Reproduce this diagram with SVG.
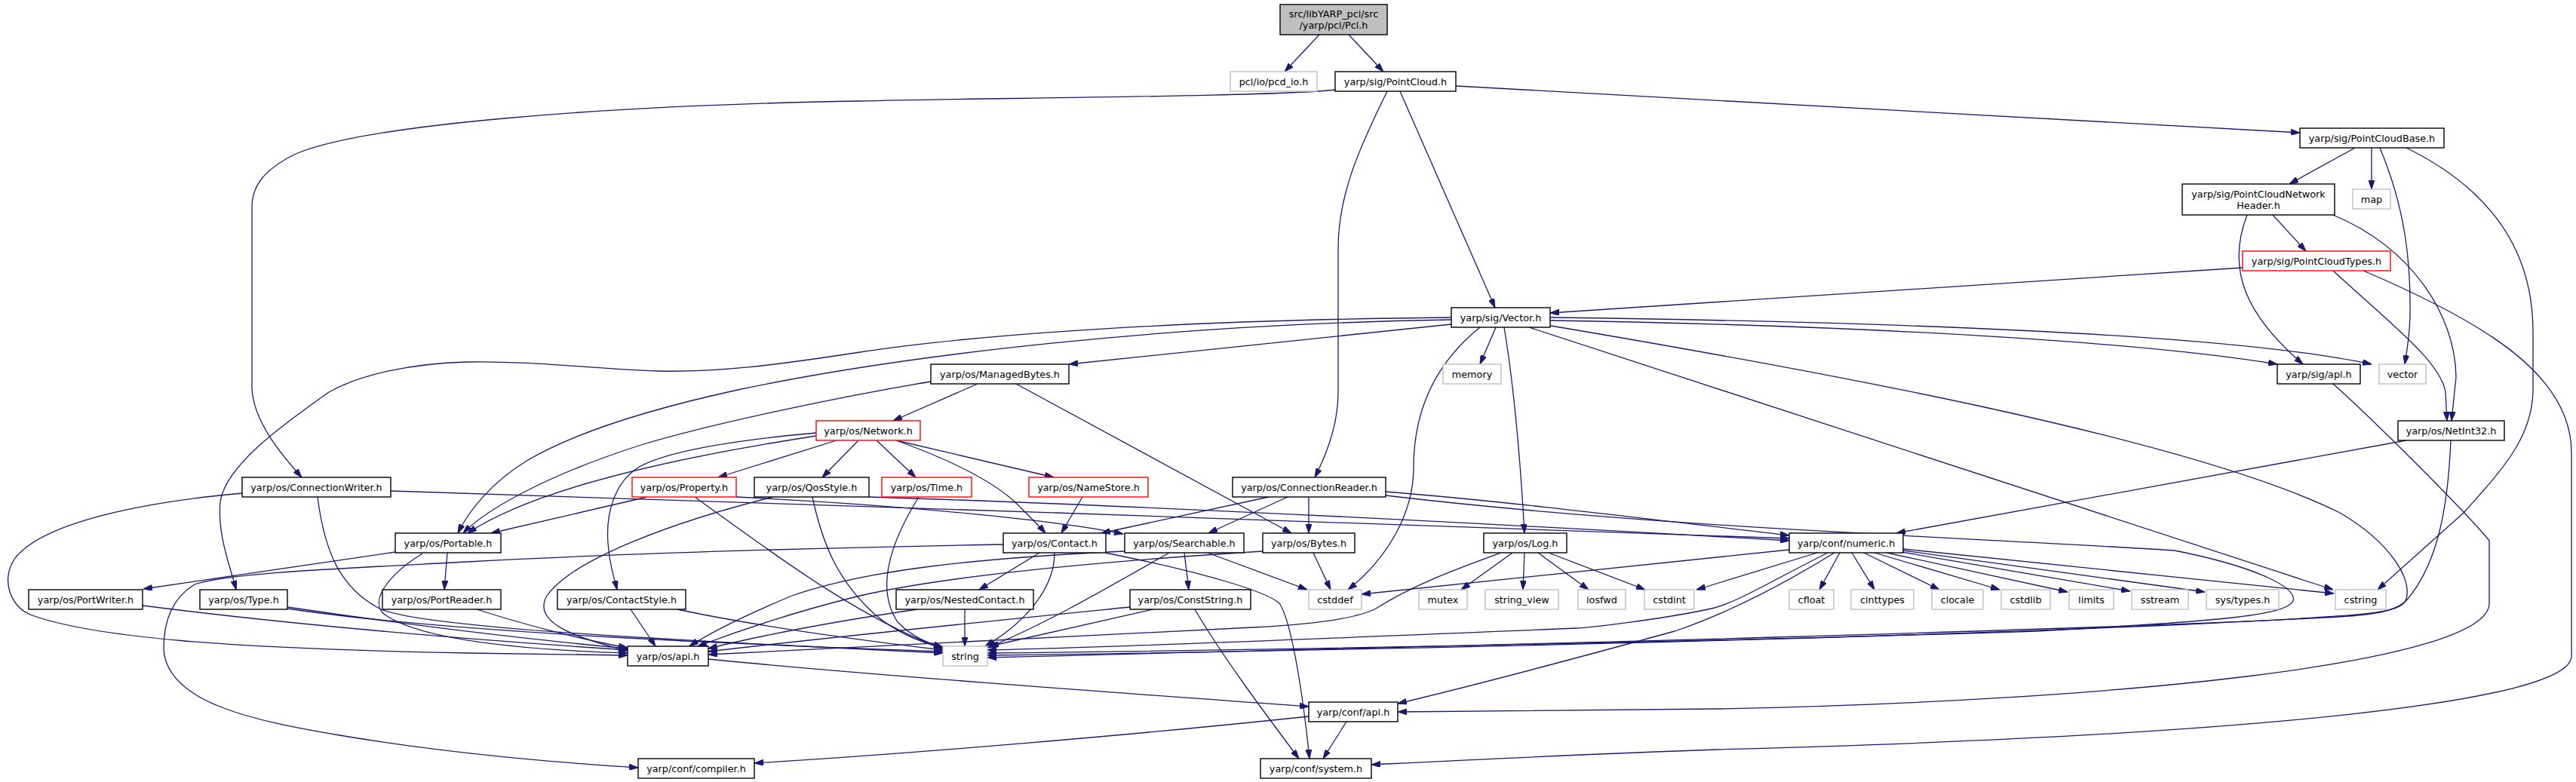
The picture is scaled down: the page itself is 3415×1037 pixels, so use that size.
<svg xmlns="http://www.w3.org/2000/svg" width="3415" height="1037" viewBox="0 0 3415 1037">
<style>
.e{fill:none;stroke:#191970;stroke-width:1.3;marker-end:url(#a)}
.n rect{fill:#fff;stroke:#000;stroke-width:1.4}
.g rect{fill:#fff;stroke:#bfbfbf;stroke-width:1.4}
.r rect{fill:#fff;stroke:#ff0000;stroke-width:1.4}
text{font-family:"DejaVu Sans","Liberation Sans",sans-serif;font-size:12.8px;text-anchor:middle;fill:#000}
</style>
<defs>
<marker id="a" viewBox="0 0 12 8" refX="12" refY="4" markerWidth="12" markerHeight="8" markerUnits="userSpaceOnUse" orient="auto"><path d="M0,0 L12,4 L0,8 z" fill="#191970" stroke="#191970" stroke-width="1"/></marker>
</defs>
<rect width="3415" height="1037" fill="#fff"/>
<g id="edges">
<path class="e" d="M1749,46 L1703,95"/>
<path class="e" d="M1788,46 L1834,95"/>
<path class="e" d="M1770,119 C1700,128 1300,130 1140,134 C800,140 480,165 390,205 C345,228 334,250 334,275 L334,515 C336,560 375,605 400,633"/>
<path class="e" d="M1839,121 C1800,200 1774,260 1774,330 L1774,520 C1774,560 1760,600 1743,633"/>
<path class="e" d="M1856,121 L1982,408"/>
<path class="e" d="M1930,114 L3049,176"/>
<path class="e" d="M3122,196 L3035,244"/>
<path class="e" d="M3144,196 L3144,251"/>
<path class="e" d="M3155,196 C3190,280 3196,350 3195,420 C3194,450 3190,470 3188,483"/>
<path class="e" d="M3190,196 C3300,250 3358,330 3358,440 L3358,520 C3356,580 3320,620 3266,680 L3152,782"/>
<path class="e" d="M3013,285 L3057,333"/>
<path class="e" d="M2979,285 C2950,360 2980,420 3053,483"/>
<path class="e" d="M3093,285 C3200,330 3255,420 3256,500 L3250,558"/>
<path class="e" d="M2973,355 L2055,415"/>
<path class="e" d="M3093,359 C3170,430 3236,480 3242,520 L3244,558"/>
<path class="e" d="M3133,359 C3300,430 3409,500 3409,600 L3409,870 C3409,930 3000,975 2275,994 C2100,1000 1900,1010 1818,1014"/>
<path class="e" d="M1924,430 L1417,483"/>
<path class="e" d="M1983,434 L1962,483"/>
<path class="e" d="M2055,425 C2500,432 2850,455 3019,483"/>
<path class="e" d="M2055,421 C2600,428 2980,448 3144,483"/>
<path class="e" d="M2027,434 L3093,782"/>
<path class="e" d="M2056,432 C2400,490 2900,580 3102,680 C3170,720 3200,770 3189,797 C3180,815 3120,817 2900,828 C2400,850 1700,864 1309,869"/>
<path class="e" d="M1994,434 C2005,500 2015,600 2021,707"/>
<path class="e" d="M1962,434 C1905,480 1874,540 1874,620 C1874,680 1840,740 1787,782"/>
<path class="e" d="M1924,421 C1500,425 1250,450 1140,467 C1030,484 950,494 873,492 C800,490 700,478 618,480 C550,482 480,495 436,520 C380,560 300,615 292,665 C288,710 305,750 313,782"/>
<path class="e" d="M1924,424 C1550,430 1200,470 978,517 C850,545 760,575 700,610 C650,640 620,680 607,707"/>
<path class="e" d="M1234,506 C1120,525 950,560 850,590 C740,625 650,670 614,707"/>
<path class="e" d="M1296,509 L1184,558"/>
<path class="e" d="M1347,509 L1712,707"/>
<path class="e" d="M1109,584 L952,633"/>
<path class="e" d="M1138,584 L1090,633"/>
<path class="e" d="M1162,584 L1214,633"/>
<path class="e" d="M1188,584 L1397,633"/>
<path class="e" d="M1188,584 C1260,610 1320,640 1350,670 C1370,690 1380,700 1386,707"/>
<path class="e" d="M1082,578 C940,600 720,640 620,707"/>
<path class="e" d="M1082,574 C960,585 880,600 846,620 C815,640 803,680 806,720 C808,750 814,765 818,782"/>
<path class="e" d="M858,659 L651,707"/>
<path class="e" d="M921,659 C1020,730 1130,815 1250,861"/>
<path class="e" d="M976,659 C1200,670 1400,690 1489,708"/>
<path class="e" d="M1025,659 C900,690 760,740 725,790 C705,825 760,845 832,863"/>
<path class="e" d="M1077,659 C1090,720 1110,770 1160,815 C1190,840 1220,852 1250,859"/>
<path class="e" d="M1152,659 C1500,670 1900,690 2372,717"/>
<path class="e" d="M518,651 C800,660 1100,672 1400,680 C1800,692 2100,703 2372,714"/>
<path class="e" d="M321,654 C200,665 60,690 20,740 C0,770 15,805 40,815 C120,845 300,860 620,866 L832,869"/>
<path class="e" d="M421,659 C430,730 450,780 505,808 C560,830 800,845 1250,866"/>
<path class="e" d="M524,732 L190,781"/>
<path class="e" d="M1330,722 C1000,728 750,738 620,745 C450,754 300,760 258,775 C225,795 217,830 217,860 C220,930 330,955 450,975 C600,1000 750,1012 846,1018"/>
<path class="e" d="M593,733 L589,782"/>
<path class="e" d="M560,734 C510,765 490,800 510,815 C560,850 700,862 832,866"/>
<path class="e" d="M189,803 C400,830 650,850 832,862"/>
<path class="e" d="M381,805 C550,830 700,848 832,860"/>
<path class="e" d="M381,807 C600,840 1000,855 1250,864"/>
<path class="e" d="M632,808 C700,830 780,850 832,859"/>
<path class="e" d="M836,808 L869,857"/>
<path class="e" d="M898,808 C1000,830 1150,850 1250,862"/>
<path class="e" d="M939,874 C1150,895 1500,920 1735,937"/>
<path class="e" d="M1735,950 C1500,975 1200,1000 1000,1012"/>
<path class="e" d="M1785,957 L1754,1006"/>
<path class="e" d="M1218,659 C1180,720 1160,780 1190,825 C1210,845 1230,853 1250,858"/>
<path class="e" d="M1435,659 L1407,707"/>
<path class="e" d="M1682,659 L1460,707"/>
<path class="e" d="M1707,659 L1602,707"/>
<path class="e" d="M1735,659 L1735,707"/>
<path class="e" d="M1837,652 C2000,665 2200,690 2372,710"/>
<path class="e" d="M1837,657 C2200,700 2600,712 2883,730 C2997,753 3045,780 3040,797 C3030,815 2960,823 2700,837 C2300,850 1700,862 1309,866"/>
<path class="e" d="M1378,733 L1298,782"/>
<path class="e" d="M1398,733 C1398,780 1360,825 1306,857"/>
<path class="e" d="M1465,733 C1600,760 1680,785 1696,800 C1710,820 1725,900 1736,1006"/>
<path class="e" d="M1550,733 C1450,790 1380,830 1309,859"/>
<path class="e" d="M1570,733 L1576,782"/>
<path class="e" d="M1601,733 L1733,782"/>
<path class="e" d="M1491,731 C1300,740 1150,755 1050,790 C990,815 940,840 914,857"/>
<path class="e" d="M1674,731 C1450,745 1250,765 1140,790 C1050,812 970,840 925,857"/>
<path class="e" d="M1741,733 L1764,782"/>
<path class="e" d="M1216,808 C1100,825 1000,845 939,860"/>
<path class="e" d="M1279,808 L1279,857"/>
<path class="e" d="M1498,805 C1300,825 1100,845 939,864"/>
<path class="e" d="M1529,808 L1312,857"/>
<path class="e" d="M1584,808 C1620,870 1680,950 1722,1006"/>
<path class="e" d="M2005,733 L1937,782"/>
<path class="e" d="M2021,733 L2019,782"/>
<path class="e" d="M2039,733 L2106,782"/>
<path class="e" d="M2053,733 L2181,782"/>
<path class="e" d="M1990,733 C1930,755 1874,775 1824,807 C1790,825 1700,830 1660,832 C1400,845 1100,860 939,868"/>
<path class="e" d="M2372,729 L1805,788"/>
<path class="e" d="M2409,733 L2249,782"/>
<path class="e" d="M2423,733 C2340,775 2300,800 2269,807 C2200,822 2100,833 2089,833 C1800,845 1500,858 1309,862"/>
<path class="e" d="M2432,733 C2380,765 2300,810 2220,837 C2100,870 1950,910 1853,933"/>
<path class="e" d="M2439,733 L2412,782"/>
<path class="e" d="M2455,733 L2485,782"/>
<path class="e" d="M2471,733 L2571,782"/>
<path class="e" d="M2485,733 L2651,782"/>
<path class="e" d="M2501,733 L2741,785"/>
<path class="e" d="M2515,731 L2824,784"/>
<path class="e" d="M2523,730 L2923,785"/>
<path class="e" d="M2523,728 L3094,787"/>
<path class="e" d="M3190,584 L2514,707"/>
<path class="e" d="M3249,584 C3245,680 3230,747 3193,793 C3180,810 3150,815 3100,818 C2800,835 2000,855 1309,872"/>
<path class="e" d="M3093,509 C3150,560 3270,680 3300,717 L3300,800 C3300,880 2800,930 2275,940 L1853,944"/>
</g>
<g id="n_root"><rect x="1697" y="6" width="142" height="40" style="fill:#bfbfbf;stroke:#000;stroke-width:1.4"/><text x="1768" y="23">src/libYARP_pcl/src</text><text x="1768" y="38">/yarp/pcl/Pcl.h</text></g>
<g id="n_pcdio" class="g"><rect x="1631" y="95" width="115" height="26"/><text x="1688.5" y="112.5">pcl/io/pcd_io.h</text></g>
<g id="n_pointcloud" class="n"><rect x="1770" y="95" width="160" height="26"/><text x="1850" y="112.5">yarp/sig/PointCloud.h</text></g>
<g id="n_pcbase" class="n"><rect x="3049" y="170" width="191" height="26"/><text x="3144.5" y="187.5">yarp/sig/PointCloudBase.h</text></g>
<g id="n_pcnh" class="n"><rect x="2893" y="244" width="202" height="41"/><text x="2994" y="261.5">yarp/sig/PointCloudNetwork</text><text x="2994" y="276.5">Header.h</text></g>
<g id="n_map" class="g"><rect x="3119" y="251" width="50" height="26"/><text x="3144" y="268.5">map</text></g>
<g id="n_pctypes" class="r"><rect x="2973" y="333" width="196" height="26"/><text x="3071" y="350.5">yarp/sig/PointCloudTypes.h</text></g>
<g id="n_vector_h" class="n"><rect x="1924" y="408" width="131" height="26"/><text x="1989.5" y="425.5">yarp/sig/Vector.h</text></g>
<g id="n_managedbytes" class="n"><rect x="1234" y="483" width="183" height="26"/><text x="1325.5" y="500.5">yarp/os/ManagedBytes.h</text></g>
<g id="n_memory" class="g"><rect x="1913" y="483" width="77" height="26"/><text x="1951.5" y="500.5">memory</text></g>
<g id="n_sigapi" class="n"><rect x="3019" y="483" width="110" height="26"/><text x="3074" y="500.5">yarp/sig/api.h</text></g>
<g id="n_vector" class="g"><rect x="3154" y="483" width="62" height="26"/><text x="3185" y="500.5">vector</text></g>
<g id="n_network" class="r"><rect x="1082" y="558" width="138" height="26"/><text x="1151" y="575.5">yarp/os/Network.h</text></g>
<g id="n_netint32" class="n"><rect x="3179" y="558" width="141" height="26"/><text x="3249.5" y="575.5">yarp/os/NetInt32.h</text></g>
<g id="n_connwriter" class="n"><rect x="321" y="633" width="197" height="26"/><text x="419.5" y="650.5">yarp/os/ConnectionWriter.h</text></g>
<g id="n_property" class="r"><rect x="838" y="633" width="138" height="26"/><text x="907" y="650.5">yarp/os/Property.h</text></g>
<g id="n_qosstyle" class="n"><rect x="1000" y="633" width="152" height="26"/><text x="1076" y="650.5">yarp/os/QosStyle.h</text></g>
<g id="n_time" class="r"><rect x="1169" y="633" width="119" height="26"/><text x="1228.5" y="650.5">yarp/os/Time.h</text></g>
<g id="n_namestore" class="r"><rect x="1364" y="633" width="158" height="26"/><text x="1443" y="650.5">yarp/os/NameStore.h</text></g>
<g id="n_connreader" class="n"><rect x="1634" y="633" width="203" height="26"/><text x="1735.5" y="650.5">yarp/os/ConnectionReader.h</text></g>
<g id="n_portable" class="n"><rect x="524" y="707" width="140" height="26"/><text x="594" y="724.5">yarp/os/Portable.h</text></g>
<g id="n_contact" class="n"><rect x="1330" y="707" width="136" height="26"/><text x="1398" y="724.5">yarp/os/Contact.h</text></g>
<g id="n_searchable" class="n"><rect x="1491" y="707" width="158" height="26"/><text x="1570" y="724.5">yarp/os/Searchable.h</text></g>
<g id="n_bytes" class="n"><rect x="1674" y="707" width="122" height="26"/><text x="1735" y="724.5">yarp/os/Bytes.h</text></g>
<g id="n_log" class="n"><rect x="1967" y="707" width="110" height="26"/><text x="2022" y="724.5">yarp/os/Log.h</text></g>
<g id="n_numeric" class="n"><rect x="2372" y="707" width="151" height="26"/><text x="2447.5" y="724.5">yarp/conf/numeric.h</text></g>
<g id="n_portwriter" class="n"><rect x="38" y="782" width="151" height="26"/><text x="113.5" y="799.5">yarp/os/PortWriter.h</text></g>
<g id="n_type" class="n"><rect x="265" y="782" width="116" height="26"/><text x="323" y="799.5">yarp/os/Type.h</text></g>
<g id="n_portreader" class="n"><rect x="507" y="782" width="157" height="26"/><text x="585.5" y="799.5">yarp/os/PortReader.h</text></g>
<g id="n_contactstyle" class="n"><rect x="739" y="782" width="170" height="26"/><text x="824" y="799.5">yarp/os/ContactStyle.h</text></g>
<g id="n_nestedcontact" class="n"><rect x="1188" y="782" width="182" height="26"/><text x="1279" y="799.5">yarp/os/NestedContact.h</text></g>
<g id="n_conststring" class="n"><rect x="1498" y="782" width="160" height="26"/><text x="1578" y="799.5">yarp/os/ConstString.h</text></g>
<g id="n_cstddef" class="g"><rect x="1735" y="782" width="70" height="26"/><text x="1770" y="799.5">cstddef</text></g>
<g id="n_mutex" class="g"><rect x="1881" y="782" width="64" height="26"/><text x="1913" y="799.5">mutex</text></g>
<g id="n_string_view" class="g"><rect x="1969" y="782" width="97" height="26"/><text x="2017.5" y="799.5">string_view</text></g>
<g id="n_iosfwd" class="g"><rect x="2092" y="782" width="63" height="26"/><text x="2123.5" y="799.5">iosfwd</text></g>
<g id="n_cstdint" class="g"><rect x="2180" y="782" width="66" height="26"/><text x="2213" y="799.5">cstdint</text></g>
<g id="n_cfloat" class="g"><rect x="2372" y="782" width="59" height="26"/><text x="2401.5" y="799.5">cfloat</text></g>
<g id="n_cinttypes" class="g"><rect x="2454" y="782" width="83" height="26"/><text x="2495.5" y="799.5">cinttypes</text></g>
<g id="n_clocale" class="g"><rect x="2561" y="782" width="68" height="26"/><text x="2595" y="799.5">clocale</text></g>
<g id="n_cstdlib" class="g"><rect x="2653" y="782" width="65" height="26"/><text x="2685.5" y="799.5">cstdlib</text></g>
<g id="n_limits" class="g"><rect x="2743" y="782" width="59" height="26"/><text x="2772.5" y="799.5">limits</text></g>
<g id="n_sstream" class="g"><rect x="2826" y="782" width="75" height="26"/><text x="2863.5" y="799.5">sstream</text></g>
<g id="n_systypes" class="g"><rect x="2925" y="782" width="96" height="26"/><text x="2973" y="799.5">sys/types.h</text></g>
<g id="n_cstring" class="g"><rect x="3096" y="782" width="67" height="26"/><text x="3129.5" y="799.5">cstring</text></g>
<g id="n_osapi" class="n"><rect x="832" y="857" width="107" height="26"/><text x="885.5" y="874.5">yarp/os/api.h</text></g>
<g id="n_string" class="g"><rect x="1250" y="857" width="59" height="26"/><text x="1279.5" y="874.5">string</text></g>
<g id="n_confapi" class="n"><rect x="1735" y="931" width="118" height="26"/><text x="1794" y="948.5">yarp/conf/api.h</text></g>
<g id="n_compiler" class="n"><rect x="846" y="1006" width="154" height="26"/><text x="923" y="1023.5">yarp/conf/compiler.h</text></g>
<g id="n_system" class="n"><rect x="1671" y="1006" width="147" height="26"/><text x="1744.5" y="1023.5">yarp/conf/system.h</text></g>
</svg>
